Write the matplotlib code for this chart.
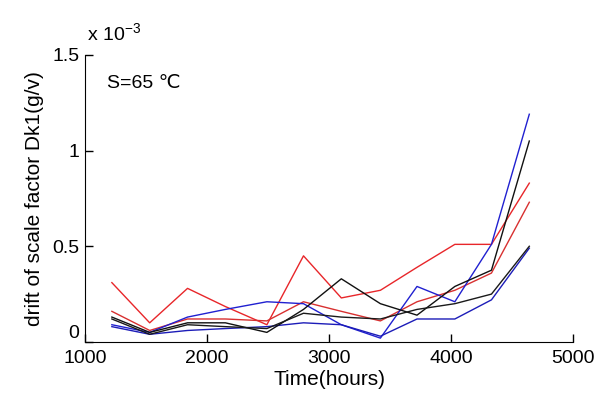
import matplotlib
matplotlib.use("Agg")
import matplotlib.pyplot as plt

plt.rcParams['font.family'] = ['Liberation Sans', 'DejaVu Sans']

hours = [1220, 1530, 1840, 2150, 2490, 2790, 3100, 3420, 3720, 4030, 4330, 4640]
red1 = [0.31, 0.10, 0.28, 0.185, 0.09, 0.45, 0.23, 0.27, 0.39, 0.51, 0.51, 0.83]
red2 = [0.16, 0.06, 0.12, 0.12, 0.11, 0.21, 0.16, 0.11, 0.21, 0.27, 0.36, 0.73]
blue1 = [0.09, 0.05, 0.13, 0.17, 0.21, 0.20, 0.09, 0.02, 0.29, 0.21, 0.51, 1.19]
blue2 = [0.08, 0.04, 0.06, 0.07, 0.08, 0.10, 0.09, 0.03, 0.12, 0.12, 0.22, 0.49]
black1 = [0.13, 0.05, 0.10, 0.10, 0.05, 0.17, 0.33, 0.20, 0.14, 0.29, 0.375, 1.05]
black2 = [0.12, 0.04, 0.09, 0.08, 0.07, 0.15, 0.13, 0.12, 0.17, 0.20, 0.25, 0.50]
scale = 1e-3

series = [(red1, '#e8262a'), (red2, '#d83030'), (blue1, '#2020d0'),
          (blue2, '#1c1cb8'), (black1, '#111111'), (black2, '#1a1a1a')]

fig = plt.figure(figsize=(6.05, 4.16), dpi=100)
ax = fig.add_axes([0.1405, 0.178, 0.807, 0.69])
for vals, c in series:
    ax.plot(hours, [v * scale for v in vals], color=c, lw=1.0)

ax.set_xlim(1000, 5000)
ax.set_ylim(0, 1.5e-3)
ax.set_xticks([1000, 2000, 3000, 4000, 5000])
ax.set_xticklabels(['1000', '2000', '3000', '4000', '5000'])
ax.set_yticks([0, 0.5e-3, 1e-3, 1.5e-3])
ax.set_yticklabels(['0', '0.5', '1', '1.5'])
ax.get_yticklabels()[0].set_va('bottom')
ax.spines['top'].set_visible(False)
ax.spines['right'].set_visible(False)
ax.tick_params(direction='in', length=6, labelsize=14, width=1)
ax.tick_params(axis='x', pad=6)
ax.tick_params(axis='y', pad=4)
ax.set_xlabel('Time(hours)', fontsize=15, labelpad=2)
ax.set_ylabel('drift of scale factor Dk1(g/v)', fontsize=15, labelpad=6)
ax.text(0.005, 1.035, r'x 10$^{\mathregular{-3}}$', transform=ax.transAxes, fontsize=14,
        ha='left', va='bottom')
ax.text(0.045, 0.9, 'S=65 ℃', transform=ax.transAxes, fontsize=14, ha='left', va='center')

fig.savefig('out.png', dpi=100)
